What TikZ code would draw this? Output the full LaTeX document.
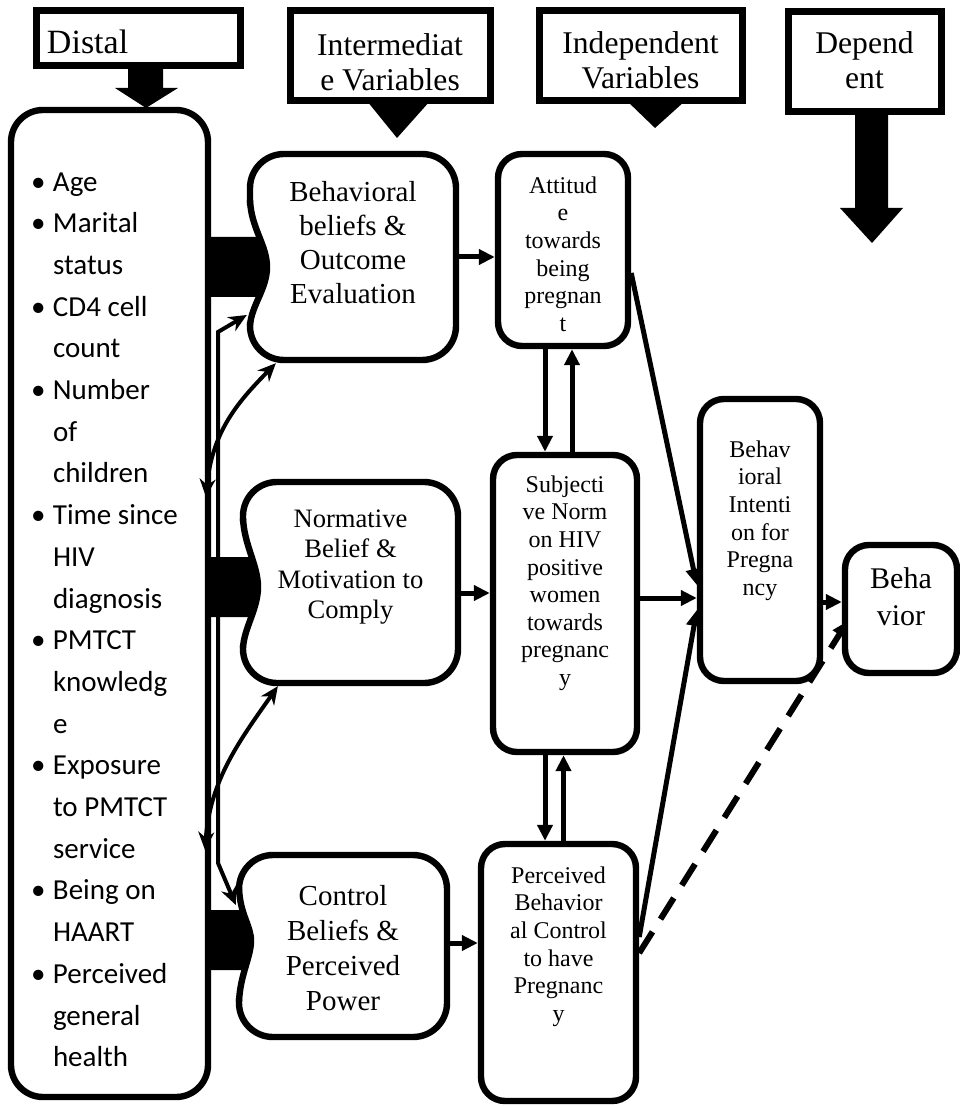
\documentclass[tikz,border=0pt]{standalone}
\usepackage{fontspec}
\setmainfont{Liberation Serif}
\newfontfamily\listfont{Carlito}
\usetikzlibrary{arrows.meta,backgrounds}

\begin{document}
\begin{tikzpicture}[x=0.5pt,y=-0.5pt]
    \tikzset { header/.style = { draw, line width=3.5pt, inner sep=0pt, font=\fontsize{15.8pt}{17.5pt}\selectfont } }
    \tikzset { box/.style = { draw, line width=3.2pt, fill=white, inner sep=0pt, rounded corners=17pt } }
    \tikzset { smallbox/.style = { box, rounded corners=12pt, font=\fontsize{12pt}{13.8pt}\selectfont } }
    \tikzset { edge/.style = { -{Triangle[length=8pt,width=7.5pt]}, line width=2.5pt } }
    \tikzset { link/.style = { {Stealth[length=9pt,width=8pt]}-{Stealth[length=9pt,width=8pt]}, line width=2pt } }

    \useasboundingbox (0,0) rectangle (959,1106);

    % headings
    \node[header] (distalhd) at (138,38.5) {\parbox[c][27.5pt][t]{102pt}{\fontsize{17pt}{20pt}\selectfont\vspace*{9.4pt}\hspace*{5.5pt}Distal}};
    \node[header] (interhd) at (390,56) {\parbox[c][45pt][t]{100pt}{\centering\vspace*{11.2pt}Intermediat\\e Variables}};
    \node[header] (indephd) at (640.5,56) {\parbox[c][45pt][t]{101.5pt}{\centering\vspace*{10.2pt}Independent\\Variables}};
    \node[header] (dephd) at (864.5,62) {\parbox[c][50pt][t]{76.5pt}{\centering\vspace*{9.7pt}Depend\\ent}};

    \fill (128,66) -- (163,66) -- (163,88) -- (178,88) -- (146,108) -- (115,88) -- (128,88) -- cycle;
    \fill (367,101) -- (430,101) -- (397,138) -- cycle;
    \fill (627,101) -- (685,101) -- (655,128) -- cycle;
    \fill (855,112) -- (888,112) -- (888,208) -- (903,208) -- (872,243) -- (840,208) -- (855,208) -- cycle;

    % distal factors
    \node[box, rounded corners=16pt, font=\listfont\fontsize{14.5pt}{20.85pt}\selectfont] (distal) at (109.5,603.5) {\parbox[c][493.5pt][t]{98.5pt}{\raggedright\leftskip=10pt\vspace*{31.2pt}%
      \makebox[11pt][l]{•}Age\\
      \makebox[11pt][l]{•}Marital\\ \hspace*{11pt}status\\
      \makebox[11pt][l]{•}CD4 cell\\ \hspace*{11pt}count\\
      \makebox[11pt][l]{•}Number\\ \hspace*{11pt}of\\ \hspace*{11pt}children\\
      \makebox[11pt][l]{•}Time since\\ \hspace*{11pt}HIV\\ \hspace*{11pt}diagnosis\\
      \makebox[11pt][l]{•}PMTCT\\ \hspace*{11pt}knowledg\\ \hspace*{11pt}e\\
      \makebox[11pt][l]{•}Exposure\\ \hspace*{11pt}to PMTCT\\ \hspace*{11pt}service\\
      \makebox[11pt][l]{•}Being on\\ \hspace*{11pt}HAART\\
      \makebox[11pt][l]{•}Perceived\\ \hspace*{11pt}general\\ \hspace*{11pt}health}};

    % intermediate variables
    \node[box, font=\fontsize{14.5pt}{17pt}\selectfont] (behav) at (353,257) {\parbox[c][103pt][t]{103pt}{\centering\vspace*{13.6pt}Behavioral\\beliefs \&\\Outcome\\Evaluation}};
    \node[box, font=\fontsize{13.3pt}{15.3pt}\selectfont] (normat) at (350.5,582.5) {\parbox[c][100.5pt][t]{107.5pt}{\centering\vspace*{13.7pt}Normative\\Belief \&\\Motivation to\\Comply}};
    \node[box, font=\fontsize{14.5pt}{17.5pt}\selectfont] (control) at (343,946) {\parbox[c][91pt][t]{104pt}{\centering\vspace*{15.1pt}Control\\Beliefs \&\\Perceived\\Power}};

    % independent variables
    \node[smallbox] (attit) at (563,250) {\parbox[c][96pt][t]{65pt}{\centering\vspace*{11.3pt}Attitud\\e\\towards\\being\\pregnan\\t}};
    \node[smallbox] (subj) at (565,603.5) {\parbox[c][148.5pt][t]{72pt}{\centering\vspace*{10.3pt}Subjecti\\ve Norm\\on HIV\\positive\\women\\towards\\pregnanc\\y}};
    \node[smallbox] (perc) at (558.5,972.5) {\parbox[c][128.5pt][t]{77.5pt}{\centering\vspace*{11.3pt}Perceived\\Behavior\\al Control\\to have\\Pregnanc\\y}};

    % dependent variables
    \node[smallbox] (intent) at (760,540) {\parbox[c][141pt][t]{60pt}{\centering\vspace*{20.8pt}Behav\\ioral\\Intenti\\on for\\Pregna\\ncy}};
    \node[smallbox, font=\fontsize{15pt}{18.5pt}\selectfont] (behavior) at (901,609) {\parbox[c][64pt][t]{56pt}{\centering\vspace*{11.3pt}Beha\\vior}};

    % block arrows into the intermediate boxes
    \fill[white] (245,205) rectangle (256,322);
    \draw[line width=3.2pt] (250,200) .. controls (251,228) and (267,245) .. (267,267) .. controls (267,289) and (251,306) .. (250,326);
    \fill (208,237) -- (258,237) -- (267,267) -- (258,297) -- (208,297) -- cycle;

    \fill[white] (238,522) rectangle (249,645);
    \draw[line width=3.2pt] (243,518) .. controls (244,545) and (258,565) .. (258,587) .. controls (258,609) and (244,628) .. (243,648);
    \fill (208,557) -- (250,557) -- (258,587) -- (250,617) -- (208,617) -- cycle;

    \fill[white] (234,892) rectangle (245,998);
    \draw[line width=3.2pt] (239,888) .. controls (240,915) and (251,925) .. (251,941) .. controls (251,957) and (240,975) .. (239,1002);
    \fill (208,910) -- (245,910) -- (251,941) -- (245,970) -- (208,970) -- cycle;

    % connectors
    \coordinate (c1end) at (206,497);
    \coordinate (c2end) at (205,850);
    \draw[link] ([yshift=-29pt]behav.west) -- (218,332) -- (218,863) -- ([yshift=20.5pt]control.west);
    \draw[link] (behav.234) .. controls (240,400) and (212,430) .. (c1end);
    \draw[link] (normat.235) .. controls (240,740) and (210,780) .. (c2end);

    \draw[edge] (behav.east) -- (behav.east -| attit.west);
    \draw[edge] ([yshift=-5.25pt]normat.east) -- ([yshift=-5.25pt]normat.east -| subj.west);
    \draw[edge] ([yshift=1.5pt]control.east) -- ([yshift=1.5pt]control.east -| perc.west);

    \draw[edge] ([xshift=-9pt]attit.south) -- ([xshift=-9pt]attit.south |- subj.north);
    \draw[edge] ([xshift=3.5pt]subj.north) -- ([xshift=3.5pt]subj.north |- attit.south);
    \draw[edge] ([xshift=-10pt]subj.south) -- ([xshift=-10pt]subj.south |- perc.north);
    \draw[edge] ([xshift=2.5pt]perc.north) -- ([xshift=2.5pt]perc.north |- subj.south);

    \draw[edge] ([yshift=-11.5pt]attit.east) -- ([yshift=-22.5pt]intent.west);
    \draw[edge] ([yshift=2.75pt]subj.east) -- ([yshift=2.75pt]subj.east -| intent.west);
    \draw[edge] ([yshift=17.75pt]perc.east) -- ([yshift=-35pt]intent.west);
    \draw[edge] ([yshift=-31pt]intent.east) -- ([yshift=-31pt]intent.east -| behavior.west);

    \begin{pgfonlayer}{background}
      \draw[edge, line width=3pt, dash pattern=on 12.5pt off 7.5pt] ([yshift=9.75pt]perc.east) -- ([xshift=3pt,yshift=-6pt]behavior.west);
    \end{pgfonlayer}
\end{tikzpicture}
\end{document}
